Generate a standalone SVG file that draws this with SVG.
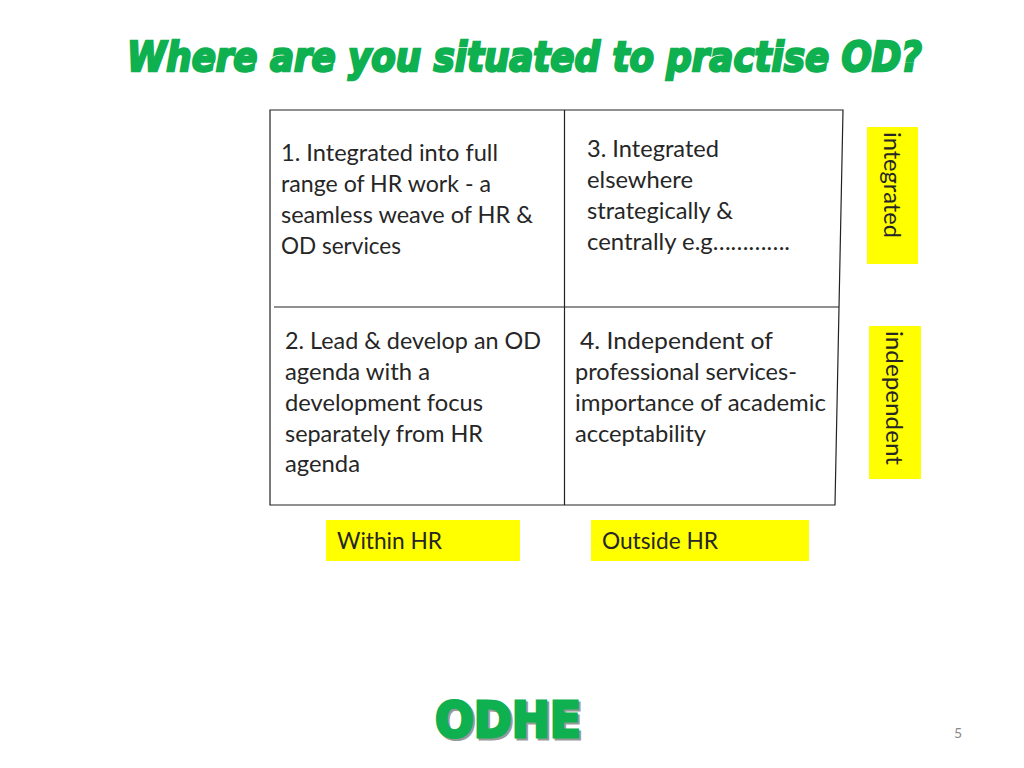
<svg xmlns="http://www.w3.org/2000/svg" width="1024" height="768" viewBox="0 0 1024 768">
<style>
.t{font-family:"Lato","Open Sans",sans-serif;font-size:23.500px;fill:#262626}
.l{stroke:#222;stroke-width:1.2;fill:none}
.y{fill:#ffff00}
</style>
<rect width="1024" height="768" fill="#fff"/>
<text id="title" transform="translate(127 71) scale(1 1.25)" x="0" y="0" textLength="795" lengthAdjust="spacingAndGlyphs" style="font-family:'DejaVu Sans',sans-serif;font-weight:bold;font-style:italic;font-size:33px;fill:#0eb050;stroke:#0eb050;stroke-width:2">Where are you situated to practise OD?</text>
<g id="connectors">
<path class="l" d="M270 110H843L835 505H270Z"/>
<path class="l" d="M564.500 110V505M274 307H839"/>
</g>
<g id="q1">
<text class="t" x="281" y="161" textLength="217" lengthAdjust="spacingAndGlyphs">1. Integrated into full</text>
<text class="t" x="281" y="192" textLength="210" lengthAdjust="spacingAndGlyphs">range of HR work - a</text>
<text class="t" x="281" y="223" textLength="252" lengthAdjust="spacingAndGlyphs">seamless weave of HR &amp;</text>
<text class="t" x="281" y="254" textLength="120" lengthAdjust="spacingAndGlyphs">OD services</text>
</g>
<g id="q3">
<text class="t" x="587" y="157" textLength="132" lengthAdjust="spacingAndGlyphs">3. Integrated</text>
<text class="t" x="587" y="188" textLength="106" lengthAdjust="spacingAndGlyphs">elsewhere</text>
<text class="t" x="587" y="219" textLength="146" lengthAdjust="spacingAndGlyphs">strategically &amp;</text>
<text class="t" x="587" y="250" textLength="203" lengthAdjust="spacingAndGlyphs">centrally e.g………….</text>
</g>
<g id="q2">
<text class="t" x="285" y="349" textLength="256" lengthAdjust="spacingAndGlyphs">2. Lead &amp; develop an OD</text>
<text class="t" x="285" y="380" textLength="145" lengthAdjust="spacingAndGlyphs">agenda with a</text>
<text class="t" x="285" y="411" textLength="198" lengthAdjust="spacingAndGlyphs">development focus</text>
<text class="t" x="285" y="442" textLength="198" lengthAdjust="spacingAndGlyphs">separately from HR</text>
<text class="t" x="285" y="472" textLength="75" lengthAdjust="spacingAndGlyphs">agenda</text>
</g>
<g id="q4">
<text class="t" x="580" y="349" textLength="193" lengthAdjust="spacingAndGlyphs">4.  Independent of</text>
<text class="t" x="575" y="380" textLength="222" lengthAdjust="spacingAndGlyphs">professional services-</text>
<text class="t" x="575" y="411" textLength="251" lengthAdjust="spacingAndGlyphs">importance of academic</text>
<text class="t" x="575" y="442" textLength="131" lengthAdjust="spacingAndGlyphs">acceptability</text>
</g>
<g id="integrated"><rect class="y" x="867" y="127" width="51" height="137"/><text class="t" transform="translate(884 132) rotate(90)" textLength="106" lengthAdjust="spacingAndGlyphs">integrated</text></g>
<g id="independent"><rect class="y" x="869" y="326" width="52" height="153"/><text class="t" transform="translate(886 331) rotate(90)" textLength="134" lengthAdjust="spacingAndGlyphs">independent</text></g>
<g id="within"><rect class="y" x="326" y="520" width="194" height="41"/><text class="t" x="337" y="549" textLength="105" lengthAdjust="spacingAndGlyphs">Within HR</text></g>
<g id="outside"><rect class="y" x="591" y="520" width="218" height="41"/><text class="t" x="602" y="549" textLength="116" lengthAdjust="spacingAndGlyphs">Outside HR</text></g>
<g id="logo">
<text x="435" y="737" textLength="146" lengthAdjust="spacingAndGlyphs" style="font-family:'DejaVu Sans',sans-serif;font-weight:bold;font-size:49px;fill:#999;stroke:#999;stroke-width:3" transform="translate(2 2)">ODHE</text>
<text x="435" y="737" textLength="146" lengthAdjust="spacingAndGlyphs" style="font-family:'DejaVu Sans',sans-serif;font-weight:bold;font-size:49px;fill:#0eb050;stroke:#0eb050;stroke-width:3">ODHE</text>
</g>
<text id="page" x="958" y="738" text-anchor="middle" style="font-family:'Lato',sans-serif;font-size:14px;fill:#8a8a8a">5</text>
</svg>
